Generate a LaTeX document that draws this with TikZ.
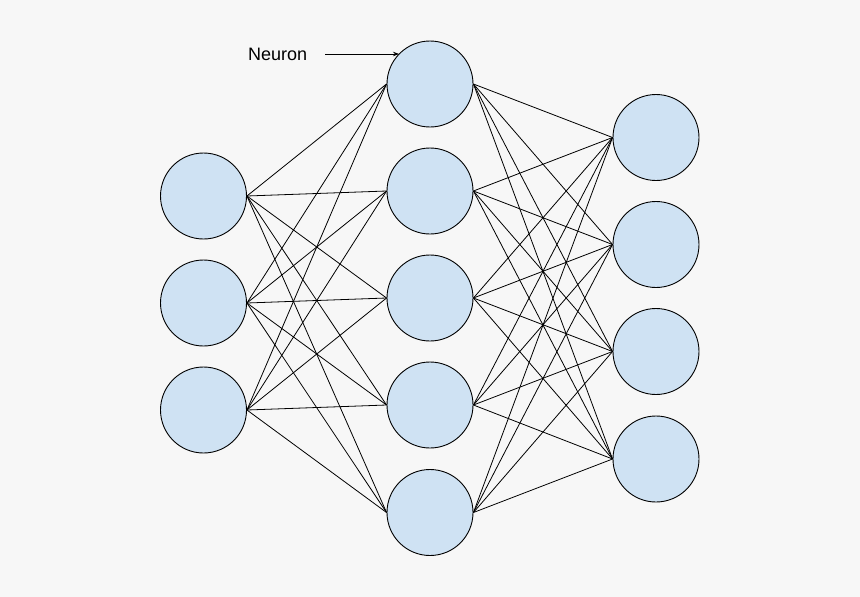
\documentclass[tikz,border=0pt]{standalone}
\usepackage{fontspec}
\setmainfont{Liberation Sans}
\usetikzlibrary{arrows.meta}
\definecolor{bg}{HTML}{F7F7F7}
\definecolor{nfill}{HTML}{CFE2F3}
\tikzset{
  neuron/.style={circle, draw=black, fill=nfill, line width=0.9pt, minimum size=86pt, inner sep=0pt},
  link/.style={draw=black, line width=0.8pt},
}
\begin{document}
\begin{tikzpicture}[x=1pt,y=-1pt]
\fill[bg] (0,0) rectangle (860,597);
\useasboundingbox (0,0) rectangle (860,597);
% input layer
\foreach \i/\y in {1/196,2/303,3/410} \node[neuron] (i\i) at (203.5,\y) {};
% hidden layer
\foreach \i/\y in {1/84,2/191,3/298,4/405,5/512.5} \node[neuron] (h\i) at (430,\y) {};
% output layer
\foreach \i/\y in {1/137.5,2/244.5,3/351.5,4/459} \node[neuron] (o\i) at (656,\y) {};
% connections
\foreach \a in {1,2,3} \foreach \b in {1,...,5} \draw[link] (i\a.east) -- (h\b.west);
\foreach \a in {1,...,5} \foreach \b in {1,...,4} \draw[link] (h\a.east) -- (o\b.west);
% label
\node[anchor=base west, font=\fontsize{18}{20}\selectfont, inner sep=0pt] (lbl) at (248,60) {Neuron};
\coordinate (tail) at (325,54);
\coordinate (tip) at (399,54);
\draw[link, -{Stealth[length=6pt,width=4.5pt]}] (tail) -- (tip);
\end{tikzpicture}
\end{document}
